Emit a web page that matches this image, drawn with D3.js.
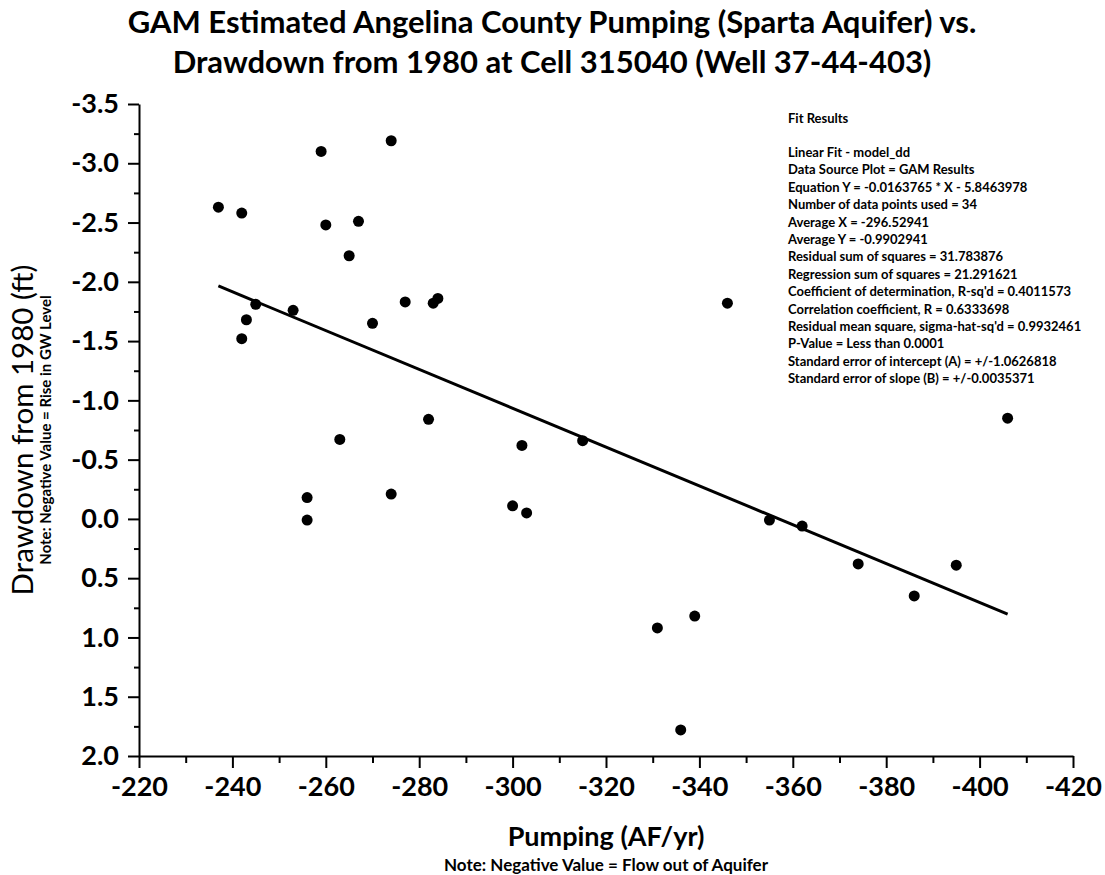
<!DOCTYPE html>
<html>
<head>
<meta charset="utf-8">
<script src="https://cdn.jsdelivr.net/npm/d3@7"></script>
<style>
  body { margin: 0; background: #fff; }
  svg { display: block; font-family: Lato, "Open Sans", sans-serif; }
</style>
</head>
<body>
<svg id="chart" width="1105" height="875"></svg>
<script>
// data
const pumping = [-237, -242, -259, -274, -260, -267, -265, -277, -283, -284,
  -245, -253, -243, -242, -270, -263, -282, -302, -256, -256,
  -274, -300, -303, -346, -315, -355, -362, -339, -331, -336,
  -406, -374, -386, -395];
const drawdown = [-2.63, -2.58, -3.10, -3.19, -2.48, -2.51, -2.22, -1.83, -1.82, -1.86,
  -1.81, -1.76, -1.68, -1.52, -1.65, -0.67, -0.84, -0.62, -0.18, 0.01,
  -0.21, -0.11, -0.05, -1.82, -0.66, 0.01, 0.06, 0.82, 0.92, 1.78,
  -0.85, 0.38, 0.65, 0.39];

const xTicks = [-220, -240, -260, -280, -300, -320, -340, -360, -380, -400, -420];
const xMinorTicks = [-230, -250, -270, -290, -310, -330, -350, -370, -390, -410];
const yTicks = [-3.5, -3.0, -2.5, -2.0, -1.5, -1.0, -0.5, 0.0, 0.5, 1.0, 1.5, 2.0];
const yMinorTicks = [-3.25, -2.75, -2.25, -1.75, -1.25, -0.75, -0.25, 0.25, 0.75, 1.25, 1.75];

// linear fit
const fitSlope = -0.0163765;
const fitIntercept = -5.8463978;

const fitResults = [
  "Linear Fit - model_dd",
  "Data Source Plot = GAM Results",
  "Equation Y = -0.0163765 * X - 5.8463978",
  "Number of data points used = 34",
  "Average X = -296.52941",
  "Average Y = -0.9902941",
  "Residual sum of squares = 31.783876",
  "Regression sum of squares = 21.291621",
  "Coefficient of determination, R-sq'd = 0.4011573",
  "Correlation coefficient, R = 0.6333698",
  "Residual mean square, sigma-hat-sq'd = 0.9932461",
  "P-Value = Less than 0.0001",
  "Standard error of intercept (A) = +/-1.0626818",
  "Standard error of slope (B) = +/-0.0035371"
];

const svg = d3.select('#chart');

const x = d3.scaleLinear().domain([-220, -420]).range([139, 1073]);
const y = d3.scaleLinear().domain([-3.5, 2.0]).range([104, 756]);

// title
svg.append('text')
  .attr('x', 552).attr('y', 33)
  .attr('text-anchor', 'middle')
  .style('font-size', '31px').style('font-weight', 'bold')
  .text('GAM Estimated Angelina County Pumping (Sparta Aquifer) vs.');
svg.append('text')
  .attr('x', 552).attr('y', 73)
  .attr('text-anchor', 'middle')
  .style('font-size', '31px').style('font-weight', 'bold')
  .text('Drawdown from 1980 at Cell 315040 (Well 37-44-403)');

// axes
const xAxis = svg.append('g')
  .attr('transform', `translate(0,${y(2.0)})`)
  .call(d3.axisBottom(x).tickValues(xTicks).tickSize(12).tickSizeOuter(0)
    .tickFormat(d => d.toFixed(0)));
svg.append('g')
  .attr('transform', `translate(0,${y(2.0)})`)
  .call(d3.axisBottom(x).tickValues(xMinorTicks).tickSize(7).tickFormat(''))
  .select('.domain').remove();

const yAxis = svg.append('g')
  .attr('transform', `translate(${x(-220)},0)`)
  .call(d3.axisLeft(y).tickValues(yTicks).tickSize(11).tickSizeOuter(0)
    .tickFormat(d => d.toFixed(1)));
svg.append('g')
  .attr('transform', `translate(${x(-220)},0)`)
  .call(d3.axisLeft(y).tickValues(yMinorTicks).tickSize(5).tickFormat(''))
  .select('.domain').remove();

svg.selectAll('.domain').attr('stroke', '#000').attr('stroke-width', 2);
svg.selectAll('.tick line').attr('stroke', '#000').attr('stroke-width', 2);

xAxis.selectAll('.tick text')
  .attr('y', 21)
  .attr('dy', '0.71em')
  .style('font-size', '27px').style('font-weight', 'bold')
  .style('font-family', 'Lato, sans-serif').attr('fill', '#000');
yAxis.selectAll('.tick text')
  .attr('x', -20)
  .style('font-size', '27px').style('font-weight', 'bold')
  .style('font-family', 'Lato, sans-serif').attr('fill', '#000');

// axis titles
svg.append('text')
  .attr('x', 606).attr('y', 846)
  .attr('text-anchor', 'middle')
  .style('font-size', '27px').style('font-weight', 'bold')
  .text('Pumping (AF/yr)');
svg.append('text')
  .attr('x', 606).attr('y', 871)
  .attr('text-anchor', 'middle')
  .style('font-size', '17px').style('font-weight', 'bold')
  .text('Note: Negative Value = Flow out of Aquifer');

svg.append('text')
  .attr('transform', 'translate(33,430) rotate(-90)')
  .attr('text-anchor', 'middle')
  .style('font-size', '29.5px')
  .text('Drawdown from 1980 (ft)');
svg.append('text')
  .attr('transform', 'translate(51,430) rotate(-90)')
  .attr('text-anchor', 'middle')
  .style('font-size', '15px').style('font-weight', 'bold')
  .text('Note: Negative Value = Rise in GW Level');

// fit line over the range of the data
const xExt = d3.extent(pumping);
const line = d3.line()
  .x(d => x(d))
  .y(d => y(fitSlope * d + fitIntercept));
svg.append('path')
  .datum(xExt)
  .attr('fill', 'none')
  .attr('stroke', '#000')
  .attr('stroke-width', 3)
  .attr('d', line);

// points
svg.selectAll('.dot')
  .data(pumping.map((p, i) => ({ p, d: drawdown[i] })))
  .enter().append('circle')
  .attr('class', 'dot')
  .attr('cx', d => x(d.p))
  .attr('cy', d => y(d.d))
  .attr('r', 5.5)
  .attr('fill', '#000');

// fit results box
const notes = svg.append('g')
  .style('font-size', '13px').style('font-weight', 'bold');
notes.append('text')
  .attr('x', 788).attr('y', 123)
  .text('Fit Results');
notes.selectAll('.fit-line')
  .data(fitResults)
  .enter().append('text')
  .attr('class', 'fit-line')
  .attr('x', 788)
  .attr('y', (d, i) => 157 + i * 17.4)
  .text(d => d);
</script>
</body>
</html>
